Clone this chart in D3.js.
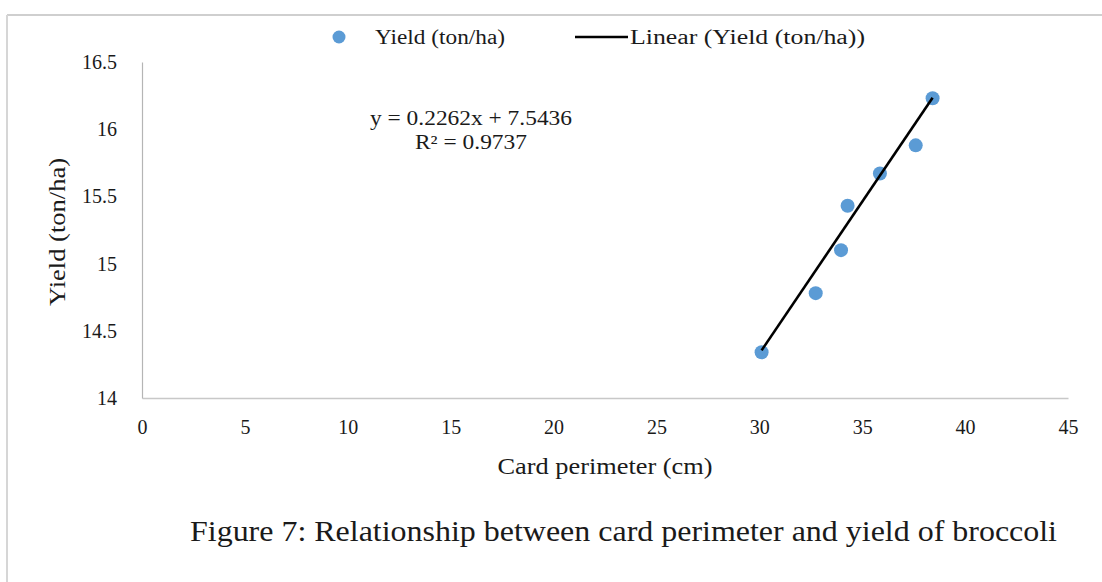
<!DOCTYPE html>
<html>
<head>
<meta charset="utf-8">
<script src="https://cdn.jsdelivr.net/npm/d3@7"></script>
<style>
  html, body { margin: 0; padding: 0; background: #fff; }
  svg { display: block; }
  svg text { font-family: "Liberation Serif", Tinos, "Times New Roman", Times, serif !important; fill: #1a1a1a; }
</style>
</head>
<body>
<svg id="chart" width="1102" height="582"></svg>
<script>
// Card perimeter (cm) and broccoli yield (ton/ha) per plot
const perimeter = [30.11, 32.74, 33.97, 34.29, 35.86, 37.60, 38.42];
const yieldTon  = [14.34, 14.78, 15.10, 15.43, 15.67, 15.88, 16.23];

// Linear trendline fitted to the yield series
const slope = 0.2262;
const intercept = 7.5436;
const rSquared = 0.9737;

const xTicks = [0, 5, 10, 15, 20, 25, 30, 35, 40, 45];
const yTicks = [14, 14.5, 15, 15.5, 16, 16.5];

const seriesName = "Yield (ton/ha)";
const trendName = "Linear (Yield (ton/ha))";
const xTitle = "Card perimeter (cm)";
const yTitle = "Yield (ton/ha)";
const caption = "Figure 7: Relationship between card perimeter and yield of broccoli";

const svg = d3.select("#chart");
const W = 1102, H = 582;

const plot = { left: 142, right: 1068, top: 62, bottom: 398 };

const x = d3.scaleLinear().domain([0, 45]).range([plot.left, plot.right]);
const y = d3.scaleLinear().domain([14, 16.5]).range([plot.bottom, plot.top]);

// Frame around the figure
svg.append("rect").attr("width", W).attr("height", H).attr("fill", "#fff");
svg.append("line").attr("x1", 7).attr("x2", W).attr("y1", 15).attr("y2", 15)
  .attr("stroke", "#cfcfcf").attr("stroke-width", 2);
svg.append("line").attr("x1", 7).attr("x2", 7).attr("y1", 15).attr("y2", H)
  .attr("stroke", "#d6d6d6").attr("stroke-width", 2);

// Axes
const xAxis = svg.append("g")
  .attr("transform", `translate(0,${plot.bottom})`)
  .call(d3.axisBottom(x).tickValues(xTicks).tickSize(0).tickPadding(22).tickFormat(d => String(d)));
xAxis.attr("font-family", null);
xAxis.select(".domain").attr("stroke", "#c8c8c8").attr("stroke-width", 1.5);
xAxis.selectAll("text").attr("font-size", 20).attr("fill", "#1a1a1a");

const yAxis = svg.append("g")
  .attr("transform", `translate(${plot.left},0)`)
  .call(d3.axisLeft(y).tickValues(yTicks).tickSize(0).tickPadding(25).tickFormat(d => String(d)));
yAxis.attr("font-family", null);
yAxis.select(".domain").attr("stroke", "#b5b5b5").attr("stroke-width", 1.2);
yAxis.selectAll("text").attr("font-size", 20).attr("fill", "#1a1a1a");

// Axis titles
svg.append("text")
  .attr("x", (plot.left + plot.right) / 2).attr("y", 474)
  .attr("text-anchor", "middle").attr("font-size", 23)
  .attr("textLength", 215).attr("lengthAdjust", "spacingAndGlyphs")
  .text(xTitle);

svg.append("text")
  .attr("transform", "translate(65,232) rotate(-90)")
  .attr("text-anchor", "middle").attr("font-size", 23)
  .attr("textLength", 148).attr("lengthAdjust", "spacingAndGlyphs")
  .text(yTitle);

// Data points
const pts = perimeter.map((p, i) => ({ x: p, y: yieldTon[i] }));
svg.append("g").selectAll("circle").data(pts).join("circle")
  .attr("cx", d => x(d.x)).attr("cy", d => y(d.y)).attr("r", 7)
  .attr("fill", "#5b9bd5");

// Trendline over the observed perimeter range
const xr = d3.extent(perimeter);
const trend = xr.map(v => ({ x: v, y: slope * v + intercept }));
svg.append("path").datum(trend)
  .attr("d", d3.line().x(d => x(d.x)).y(d => y(d.y)))
  .attr("fill", "none").attr("stroke", "#000").attr("stroke-width", 2.6);

// Regression equation
svg.append("text").attr("x", 471).attr("y", 125)
  .attr("text-anchor", "middle").attr("font-size", 20)
  .attr("textLength", 202).attr("lengthAdjust", "spacingAndGlyphs")
  .text(`y = ${slope}x  + ${intercept}`);
svg.append("text").attr("x", 471).attr("y", 149)
  .attr("text-anchor", "middle").attr("font-size", 20)
  .attr("textLength", 112).attr("lengthAdjust", "spacingAndGlyphs")
  .text(`R\u00B2 = ${rSquared}`);

// Legend
const lg = svg.append("g");
lg.append("circle").attr("cx", 339).attr("cy", 37).attr("r", 6.5).attr("fill", "#5b9bd5");
lg.append("text").attr("x", 375).attr("y", 44).attr("font-size", 20)
  .attr("textLength", 130).attr("lengthAdjust", "spacingAndGlyphs")
  .text(seriesName);
lg.append("line").attr("x1", 575).attr("x2", 628).attr("y1", 37).attr("y2", 37)
  .attr("stroke", "#000").attr("stroke-width", 2.6);
lg.append("text").attr("x", 630).attr("y", 44).attr("font-size", 20)
  .attr("textLength", 235).attr("lengthAdjust", "spacingAndGlyphs")
  .text(trendName);

// Figure caption
svg.append("text").attr("x", 190).attr("y", 541).attr("font-size", 30)
  .attr("textLength", 867).attr("lengthAdjust", "spacingAndGlyphs")
  .text(caption);
</script>
</body>
</html>
